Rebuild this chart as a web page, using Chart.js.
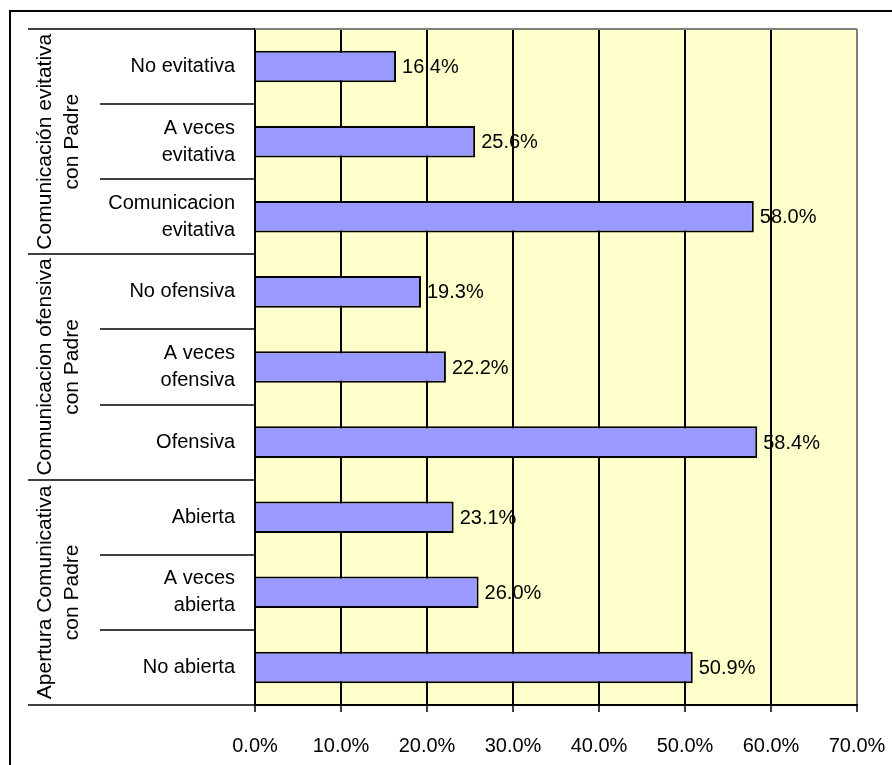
<!DOCTYPE html>
<html>
<head>
<meta charset="utf-8">
<script src="https://cdn.jsdelivr.net/npm/chart.js@4/dist/chart.umd.min.js"></script>
<style>
body{margin:0;background:#fff}
canvas{display:block}
</style>
</head>
<body>
<canvas id="grafico" width="892" height="765"></canvas>
<script>

// categorias de cima para baixo
const categorias=[
"No evitativa",
["A veces","evitativa"],
["Comunicacion","evitativa"],
"No ofensiva",
["A veces","ofensiva"],
"Ofensiva",
"Abierta",
["A veces","abierta"],
"No abierta"
]

const valores=[16.4,25.6,58.0,19.3,22.2,58.4,23.1,26.0,50.9]

const grupos=[
["Comunicación evitativa","con Padre"],
["Comunicacion ofensiva","con Padre"],
["Apertura Comunicativa","con Padre"]
]
const porGrupo=3

const eixoMin=0
const eixoMax=70
const eixoPasso=10

const fonte="'Liberation Sans', Arial, sans-serif"

// rotulos de valor no fim das barras
const rotulosValor={
id:"rotulosValor",
afterDatasetsDraw(chart){
const ctx=chart.ctx
const meta=chart.getDatasetMeta(0)
ctx.save()
ctx.font="20px "+fonte
ctx.fillStyle="#000"
ctx.textAlign="left"
ctx.textBaseline="middle"
meta.data.forEach((bar,i)=>{
ctx.fillText(valores[i].toFixed(1)+"%",bar.x+6,bar.y+1)
})
ctx.restore()
}
}

// moldura, separadores e nomes dos grupos
const moldura={
id:"moldura",
afterDraw(chart){
const ctx=chart.ctx
const area=chart.chartArea
ctx.save()

ctx.strokeStyle="#000"
ctx.lineWidth=2
ctx.strokeRect(10,11,900,800)

// borda superior cinza
ctx.strokeStyle="#808080"
ctx.beginPath()
ctx.moveTo(area.left,area.top)
ctx.lineTo(area.right,area.top)
ctx.stroke()

let passo=(area.bottom-area.top)/categorias.length

ctx.strokeStyle="#000"
ctx.lineWidth=1.5
for(let i=0;i<=categorias.length;i++){
let py=Math.round(area.top+i*passo)
let inicio=(i%porGrupo===0)?28:100
ctx.beginPath()
ctx.moveTo(inicio,py)
ctx.lineTo(area.left,py)
ctx.stroke()
}

ctx.fillStyle="#000"
ctx.font="21px "+fonte
ctx.textAlign="center"
ctx.textBaseline="middle"
grupos.forEach((g,i)=>{
let centro=area.top+(i*porGrupo+porGrupo/2)*passo
ctx.save()
ctx.translate(45,centro)
ctx.rotate(-Math.PI/2)
ctx.fillText(g[0],0,0)
ctx.fillText(g[1],0,27)
ctx.restore()
})

ctx.restore()
}
}

// fundo amarelo da area do grafico
const fundo={
id:"fundo",
beforeDraw(chart){
const a=chart.chartArea
chart.ctx.save()
chart.ctx.fillStyle="#FFFFCC"
chart.ctx.fillRect(a.left,a.top,a.right-a.left,a.bottom-a.top)
chart.ctx.restore()
}
}

new Chart(document.getElementById("grafico"),{
type:"bar",
data:{
labels:categorias,
datasets:[{
data:valores,
backgroundColor:"#9999FF",
borderColor:"#000",
borderWidth:2,
barPercentage:0.42,
categoryPercentage:1
}]
},
options:{
indexAxis:"y",
responsive:false,
animation:false,
layout:{padding:{left:0,top:29,right:35,bottom:0}},
plugins:{
legend:{display:false},
tooltip:{enabled:false}
},
scales:{
x:{
min:eixoMin,
max:eixoMax,
afterFit(s){
s.height=60
s.paddingLeft=0
s.paddingRight=0
},
ticks:{
stepSize:eixoPasso,
padding:22,
color:"#000",
font:{family:fonte,size:20},
callback:v=>v.toFixed(1)+"%"
},
grid:{
color:c=>c.index===7?"#808080":"#000",
lineWidth:2,
tickLength:7,
tickColor:"#000",
tickWidth:1.5
},
border:{color:"#000",width:2}
},
y:{
afterFit(s){
s.width=255
s.paddingTop=0
s.paddingBottom=0
},
ticks:{
padding:12,
color:"#000",
font:{family:fonte,size:20,lineHeight:1.35}
},
grid:{display:false},
border:{color:"#000",width:2}
}
}
},
plugins:[fundo,rotulosValor,moldura]
})

</script>
</body>
</html>
